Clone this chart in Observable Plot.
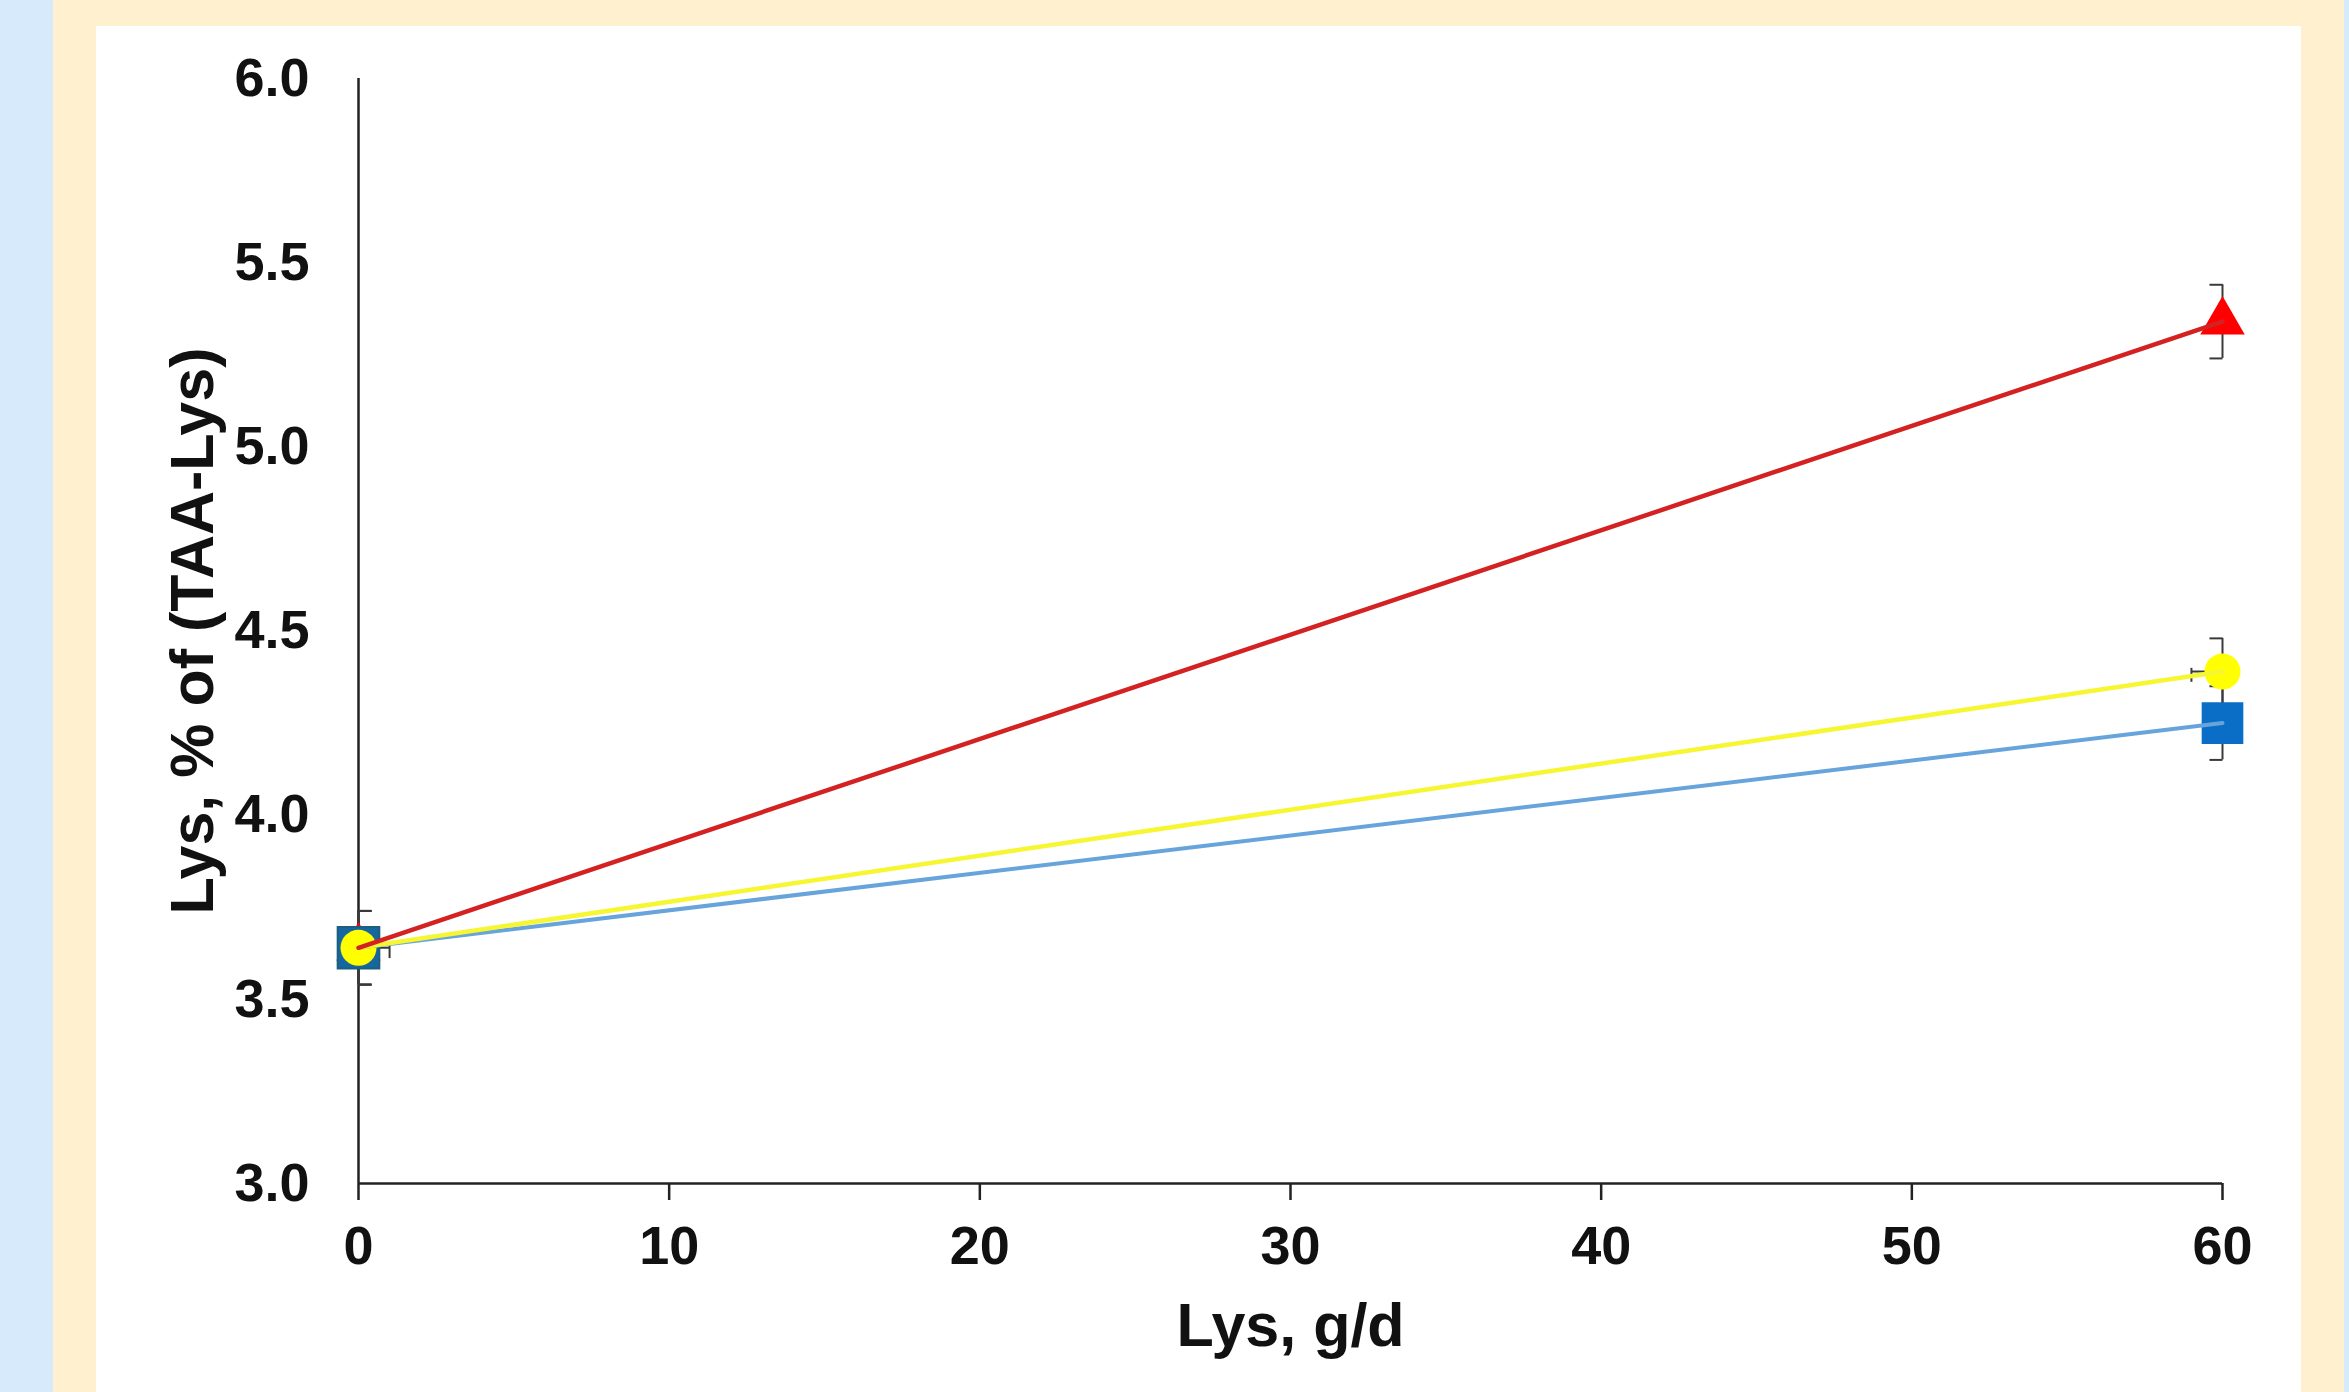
<!DOCTYPE html>
<html>
<head>
<meta charset="utf-8">
<script src="https://cdn.jsdelivr.net/npm/d3@7"></script>
<script src="https://cdn.jsdelivr.net/npm/@observablehq/plot@0.6"></script>
<style>
  html, body { margin: 0; padding: 0; width: 2349px; height: 1392px; overflow: hidden; background: #d6eafc; }
  #cream { position: absolute; left: 53px; top: 0; width: 2291px; height: 1392px; background: #fff0d0; }
  #panel { position: absolute; left: 96px; top: 26px; width: 2205px; height: 1366px; background: #ffffff; }
  #chart { position: absolute; left: 0; top: 0; }
</style>
</head>
<body>
<div id="cream"></div>
<div id="panel"></div>
<div id="chart"></div>
<script>
// ---- data ----
const lysDose = [0, 60];                       // Lys, g/d
const xTicks = [0, 10, 20, 30, 40, 50, 60];
const yTicks = [3.0, 3.5, 4.0, 4.5, 5.0, 5.5, 6.0];

const redValues = [3.64, 5.34];
const redErrors = [0.10, 0.10];

const yellowValues = [3.64, 4.39];
const yellowErrors = [0.10, 0.09];
const yellowXErrors = [1.0, 1.0];

const blueValues = [3.64, 4.25];
const blueErrors = [0.10, 0.10];

const xLabel = "Lys, g/d";
const yLabel = "Lys, % of (TAA-Lys)";

// ---- tables built from the arrays ----
const series = [
  {name: "red", values: redValues, errors: redErrors, xerrors: [0, 0]},
  {name: "yellow", values: yellowValues, errors: yellowErrors, xerrors: yellowXErrors},
  {name: "blue", values: blueValues, errors: blueErrors, xerrors: [0, 0]}
];
const rows = series.flatMap(s => lysDose.map((x, i) => ({
  series: s.name, x, y: s.values[i], e: s.errors[i], xe: s.xerrors[i], dir: i === 0 ? 1 : -1
})));
const caps = rows.flatMap(d => [d.y - d.e, d.y + d.e].map(v => ({...d, v})));
const hbars = rows.filter(d => d.xe > 0);
const byName = n => rows.filter(d => d.series === n);

const errColor = "#3a3a3a";

const chart = Plot.plot({
  width: 2349,
  height: 1392,
  marginLeft: 358,
  marginRight: 127,
  marginTop: 78,
  marginBottom: 209,
  style: {
    background: "transparent",
    fontFamily: "'Liberation Sans', Arial, sans-serif",
    fontSize: "54px",
    fontWeight: "bold",
    color: "#111"
  },
  x: {domain: [0, 60]},
  y: {domain: [3, 6]},
  marks: [
    Plot.axisX({ticks: xTicks, tickSize: 17, tickPadding: 25, strokeWidth: 2.5, stroke: "#222", label: null, tickFormat: d3.format("d")}),
    Plot.axisY({ticks: yTicks, tickSize: 0, tickPadding: 49, label: null, tickFormat: d3.format(".1f")}),
    Plot.ruleY([3], {x1: 0, x2: 60, stroke: "#222", strokeWidth: 2.5}),
    Plot.ruleX([0], {y1: 3, y2: 6, stroke: "#222", strokeWidth: 2.5}),
    // vertical error bars
    Plot.ruleX(rows, {x: "x", y1: d => d.y - d.e, y2: d => d.y + d.e, stroke: errColor, strokeWidth: 2}),
    Plot.link(caps, {x1: "x", x2: d => d.x + d.dir * 0.42, y1: "v", y2: "v", stroke: errColor, strokeWidth: 2}),
    // horizontal error bars
    Plot.link(hbars, {x1: "x", x2: d => d.x + d.dir * d.xe, y1: "y", y2: "y", stroke: errColor, strokeWidth: 2}),
    Plot.link(hbars, {x1: d => d.x + d.dir * d.xe, x2: d => d.x + d.dir * d.xe, y1: d => d.y - 0.028, y2: d => d.y + 0.01, stroke: errColor, strokeWidth: 2}),
    // markers
    Plot.dot(byName("red"), {x: "x", y: "y", symbol: "triangle", r: 16.5, fill: "#ff0000"}),
    Plot.dot(byName("blue"), {x: "x", y: "y", symbol: "square", r: 23.5, fill: d => d.x === 0 ? "#16679f" : "#0a6ec6", stroke: d => d.x === 0 ? "#1c5f80" : "none", strokeWidth: 2}),
    Plot.dot(byName("yellow"), {x: "x", y: "y", symbol: "circle", r: 18, fill: "#ffff00"}),
    // lines
    Plot.line(byName("blue"), {x: "x", y: "y", stroke: "#68a4dc", strokeWidth: 4}),
    Plot.line(byName("yellow"), {x: "x", y: "y", stroke: "#f6f632", strokeWidth: 4.5}),
    Plot.line(byName("red"), {x: "x", y: "y", stroke: "#d42222", strokeWidth: 4.5}),
    // axis titles
    Plot.text([xLabel], {frameAnchor: "bottom", dy: 143, fontSize: 61, fontWeight: "bold", fill: "#111", lineAnchor: "middle", textAnchor: "middle"}),
    Plot.text([yLabel], {frameAnchor: "left", dx: -165, rotate: -90, fontSize: 61, fontWeight: "bold", fill: "#111", lineAnchor: "middle", textAnchor: "middle"})
  ]
});
document.getElementById("chart").appendChild(chart);
</script>
</body>
</html>
